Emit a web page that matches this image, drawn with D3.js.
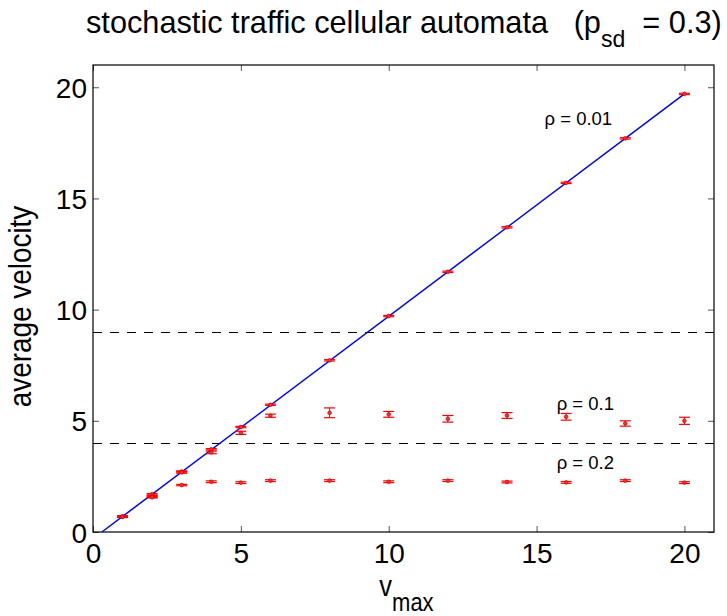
<!DOCTYPE html>
<html>
<head>
<meta charset="utf-8">
<script src="https://cdn.jsdelivr.net/npm/d3@7"></script>
<style>
  body { margin: 0; background: #fff; }
  text { font-family: "Liberation Sans", Arial, sans-serif; fill: #000; }
</style>
</head>
<body>
<div id="chart"></div>
<script>
// data
var vmax = [1, 2, 3, 4, 5, 6, 8, 10, 12, 14, 16, 18, 20];

// rho = 0.01
var vLow = [0.70, 1.70, 2.72, 3.72, 4.72, 5.72, 7.72, 9.71, 11.70, 13.70, 15.70, 17.70, 19.70];
var errLow = [0.03, 0.03, 0.03, 0.03, 0.03, 0.03, 0.03, 0.03, 0.03, 0.03, 0.03, 0.03, 0.03];
// rho = 0.1
var vMid = [0.69, 1.60, 2.68, 3.58, 4.46, 5.23, 5.36, 5.29, 5.09, 5.24, 5.18, 4.88, 5.00];
var errMid = [0.03, 0.04, 0.04, 0.06, 0.07, 0.07, 0.22, 0.13, 0.15, 0.13, 0.15, 0.12, 0.16];
// rho = 0.2
var vHigh = [0.68, 1.56, 2.11, 2.26, 2.22, 2.31, 2.31, 2.26, 2.31, 2.25, 2.23, 2.31, 2.22];
var errHigh = [0.03, 0.03, 0.03, 0.04, 0.04, 0.04, 0.04, 0.04, 0.04, 0.04, 0.04, 0.04, 0.04];

// free-flow line v = vmax - p
var fitX = [0.3, 20];
var fitY = [0, 19.7];

// dashed reference levels
var hlines = [9, 4];

var xTicks = [0, 5, 10, 15, 20];
var yTicks = [0, 5, 10, 15, 20];

var rhoLabels = ["\u03c1 = 0.01", "\u03c1 = 0.1", "\u03c1 = 0.2"];
var rhoX = [15.27, 15.68, 15.68];
var rhoY = [18.3, 5.48, 2.82];

var W = 727, H = 616;
var margin = { top: 65, right: 13, bottom: 84, left: 93 };
var width = W - margin.left - margin.right;
var height = H - margin.top - margin.bottom;

var svg = d3.select("#chart").append("svg")
    .attr("width", W)
    .attr("height", H),
  g = svg.append("g")
    .attr("transform", "translate(" + margin.left + "," + margin.top + ")");

var x = d3.scaleLinear().domain([0, 21]).range([0, width]);
var y = d3.scaleLinear().domain([0, 21]).range([height, 0]);

// axes with inward ticks on all four sides
var tickLen = 6;
var xAxis = g.append("g")
    .attr("transform", "translate(0," + height + ")")
    .call(d3.axisBottom(x).tickValues(xTicks).tickSizeInner(-tickLen).tickSizeOuter(0).tickPadding(9));
var yAxis = g.append("g")
    .call(d3.axisLeft(y).tickValues(yTicks).tickSizeInner(-tickLen).tickSizeOuter(0).tickPadding(6));
g.append("g")
    .call(d3.axisTop(x).tickValues(xTicks).tickSizeInner(-tickLen).tickSizeOuter(0).tickFormat(""));
g.append("g")
    .attr("transform", "translate(" + width + ",0)")
    .call(d3.axisRight(y).tickValues(yTicks).tickSizeInner(-tickLen).tickSizeOuter(0).tickFormat(""));

g.selectAll(".domain").remove();
g.selectAll(".tick line").attr("stroke", "#555");
g.selectAll(".tick text")
    .style("font-size", "28px")
    .style("font-family", "'Liberation Sans', Arial, sans-serif");
xAxis.selectAll(".tick text").attr("dy", "0.8em");
yAxis.selectAll(".tick text").attr("dy", "0.36em");

// box
g.append("rect")
    .attr("width", width)
    .attr("height", height)
    .attr("fill", "none")
    .attr("stroke", "#000")
    .attr("stroke-width", 1.2);

var plot = g.append("g");

// dashed horizontal lines
plot.selectAll(".hline")
    .data(hlines)
  .enter().append("line")
    .attr("class", "hline")
    .attr("x1", 0)
    .attr("x2", width)
    .attr("y1", function(d) { return Math.round(y(d)) + 0.5; })
    .attr("y2", function(d) { return Math.round(y(d)) + 0.5; })
    .attr("stroke", "#000")
    .attr("stroke-width", 1)
    .attr("stroke-dasharray", "9,8");

// blue line
plot.append("line")
    .attr("x1", x(fitX[0])).attr("y1", y(fitY[0]))
    .attr("x2", x(fitX[1])).attr("y2", y(fitY[1]))
    .attr("stroke", "#0000ff")
    .attr("stroke-width", 1.5);

// error bars
var series = [
  { v: vLow, e: errLow },
  { v: vMid, e: errMid },
  { v: vHigh, e: errHigh }
];
var capW = 5.5;

series.forEach(function(s) {
  var pts = vmax.map(function(m, i) { return { m: m, v: s.v[i], e: s.e[i] }; });
  var eb = plot.append("g").selectAll("g")
      .data(pts)
    .enter().append("g");

  eb.append("line")
    .attr("x1", function(d) { return x(d.m); })
    .attr("x2", function(d) { return x(d.m); })
    .attr("y1", function(d) { return y(d.v - d.e); })
    .attr("y2", function(d) { return y(d.v + d.e); })
    .attr("stroke", "#ff0000").attr("stroke-width", 1);

  [-1, 1].forEach(function(sg) {
    eb.append("line")
      .attr("x1", function(d) { return x(d.m) - capW; })
      .attr("x2", function(d) { return x(d.m) + capW; })
      .attr("y1", function(d) { return y(d.v + sg * d.e); })
      .attr("y2", function(d) { return y(d.v + sg * d.e); })
      .attr("stroke", "#ff0000").attr("stroke-width", 1.2);
  });

  eb.append("circle")
    .attr("cx", function(d) { return x(d.m); })
    .attr("cy", function(d) { return y(d.v); })
    .attr("r", 1.8)
    .attr("fill", "#ff3030")
    .attr("stroke", "#d00000")
    .attr("stroke-width", 0.8);
});

// rho labels
plot.selectAll(".rho")
    .data(rhoLabels)
  .enter().append("text")
    .attr("class", "rho")
    .attr("x", function(d, i) { return x(rhoX[i]); })
    .attr("y", function(d, i) { return y(rhoY[i]); })
    .style("font-size", "18.5px")
    .text(function(d) { return d; });

// title
var title = svg.append("text")
    .attr("transform", "translate(86,33) scale(0.96,1)")
    .style("font-size", "32px")
    .attr("xml:space", "preserve")
    .style("white-space", "pre");
title.append("tspan").text("stochastic traffic cellular automata   (p");
title.append("tspan").attr("dy", 14).style("font-size", "24px").text("sd");
title.append("tspan").attr("dy", -14).text("  = 0.3)");

// x label
var xl = svg.append("text")
    .attr("transform", "translate(" + (margin.left + x(10.6)) + ",596) scale(0.88,1)")
    .attr("text-anchor", "middle")
    .style("font-size", "29px");
xl.append("tspan").text("v");
xl.append("tspan").attr("dy", 15).style("font-size", "25px").text("max");

// y label
svg.append("text")
    .attr("transform", "translate(31," + (margin.top + height / 2 + 8) + ") rotate(-90) scale(0.9,1)")
    .attr("text-anchor", "middle")
    .style("font-size", "31px")
    .text("average velocity");
</script>
</body>
</html>
